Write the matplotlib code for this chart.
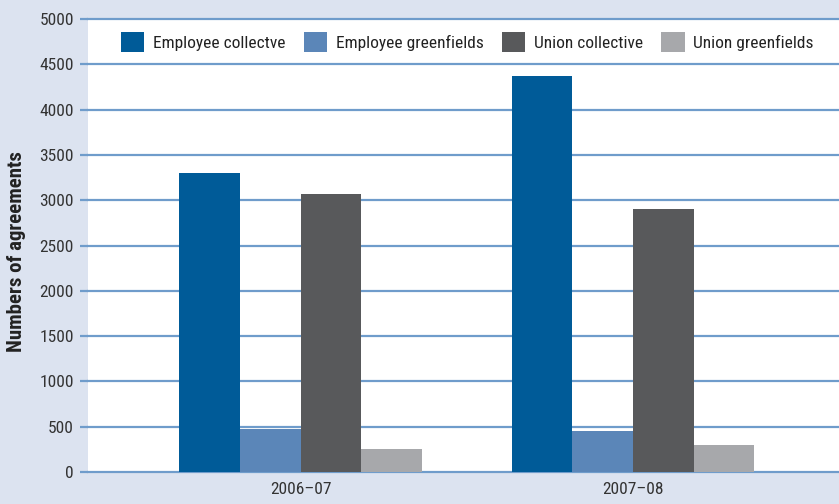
import matplotlib
matplotlib.use("Agg")
import matplotlib.pyplot as plt
import numpy as np

plt.rcParams['font.family'] = ["Roboto Condensed", "DejaVu Sans"]

years = ["2006–07", "2007–08"]
series = ["Employee collectve", "Employee greenfields", "Union collective", "Union greenfields"]
emp_coll = [3300, 4370]
emp_green = [475, 452]
union_coll = [3068, 2903]
union_green = [254, 298]
values = [emp_coll, emp_green, union_coll, union_green]
colors = ["#005b98", "#5b86b8", "#58595b", "#a7a8ab"]
yticks = [0, 500, 1000, 1500, 2000, 2500, 3000, 3500, 4000, 4500, 5000]

bg = "#dce3f0"
grid = "#6f9ccb"

fig = plt.figure(figsize=(8.39, 5.04), dpi=100, facecolor=bg)
ax = fig.add_axes([88/839, 32/504, 751/839, 453/504])
ax.set_facecolor("white")

x = np.arange(len(years))
w = 0.1825
for i, (s, v, c) in enumerate(zip(series, values, colors)):
    ax.bar(x + (i - 1.5) * w, v, width=w, color=c, label=s, zorder=3, linewidth=0)

ax.set_xlim(-0.64, 1.62)
ax.set_ylim(0, 5000)
ax.set_yticks(yticks)
ax.set_yticklabels([str(t) for t in yticks])
ax.set_xticks(x)
ax.set_xticklabels(years)
ax.yaxis.grid(True, color=grid, linewidth=1.6, zorder=1)
for l in ax.get_ygridlines():
    l.set_clip_on(False)
ax.set_axisbelow(True)
for sp in ax.spines.values():
    sp.set_visible(False)
ax.tick_params(axis='y', length=6, width=1.6, color=grid, labelsize=12.5, labelcolor="#333333", pad=4)
ax.tick_params(axis='x', length=0, labelsize=12.5, labelcolor="#333333", pad=7)
ax.set_ylabel("Numbers of agreements", fontsize=15, fontweight="bold", color="#222222")
ax.yaxis.set_label_coords(-0.083, 0.486)

leg = ax.legend(loc="upper center", bbox_to_anchor=(0.505, 0.998), ncol=4, frameon=False,
                fontsize=12.5, handlelength=1.35, handleheight=1.35, handletextpad=0.5,
                columnspacing=1.05, labelcolor="#222222", borderaxespad=0.3)

fig.savefig("out.png", dpi=100, facecolor=bg)
